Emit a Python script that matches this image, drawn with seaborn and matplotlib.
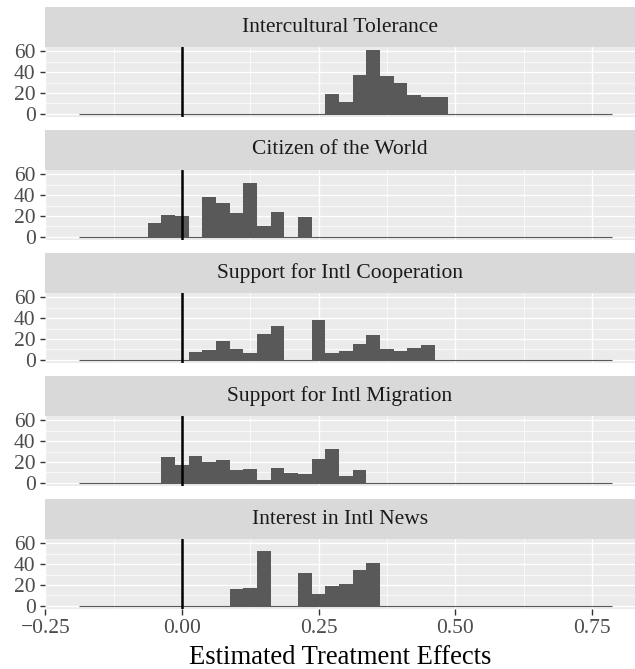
import numpy as np
import pandas as pd
import matplotlib
matplotlib.use("Agg")
import matplotlib.pyplot as plt
from matplotlib.patches import Rectangle
import seaborn as sns

# Histogram bin layout shared by every facet
BIN_START = -0.1877
BIN_WIDTH = 0.025
N_BINS = 39

outcomes = [
    "Intercultural Tolerance",
    "Citizen of the World",
    "Support for Intl Cooperation",
    "Support for Intl Migration",
    "Interest in Intl News",
]

# Counts per bin (39 bins) for each outcome
counts_tolerance = [0] * 18 + [19, 11, 37, 61, 36, 30, 18, 16, 16] + [0] * 12
counts_citizen = [0] * 5 + [13, 21, 20, 0, 38, 32, 23, 52, 10, 24, 0, 19] + [0] * 22
counts_cooperation = [0] * 8 + [7, 9, 18, 10, 6, 25, 32, 0, 0, 38, 6, 8, 15, 24, 10, 8, 11, 14] + [0] * 13
counts_migration = [0] * 6 + [25, 17, 26, 20, 22, 12, 13, 3, 14, 9, 8, 23, 32, 6, 12] + [0] * 18
counts_news = [0] * 11 + [16, 17, 53, 0, 0, 31, 11, 19, 21, 34, 41] + [0] * 17

x_ticks = [-0.25, 0.0, 0.25, 0.50, 0.75]
x_tick_labels = ["\u22120.25", "0.00", "0.25", "0.50", "0.75"]
x_minor = [-0.125, 0.125, 0.375, 0.625]
y_ticks = [0, 20, 40, 60]
y_minor = [10, 30, 50]

all_counts = [counts_tolerance, counts_citizen, counts_cooperation,
              counts_migration, counts_news]

edges = BIN_START + BIN_WIDTH * np.arange(N_BINS + 1)
centers = (edges[:-1] + edges[1:]) / 2

frames = []
for name, cnt in zip(outcomes, all_counts):
    frames.append(pd.DataFrame({"outcome": name, "effect": centers, "count": cnt}))
df = pd.concat(frames, ignore_index=True)

sns.set_style("white")
plt.rcParams["font.family"] = ["Liberation Serif", "DejaVu Serif"]

W, H = 635, 669
g = sns.FacetGrid(df, row="outcome", row_order=outcomes, sharex=True, sharey=True,
                  height=1.2, aspect=5)
g.map_dataframe(sns.histplot, x="effect", weights="count", binwidth=BIN_WIDTH,
                binrange=(float(edges[0]), float(edges[-1])),
                color="#595959", alpha=1, linewidth=0, edgecolor="none")
g.set_titles(row_template="", col_template="", template="")
g.set_axis_labels("", "")
fig = g.figure
fig.set_size_inches(W / 100, H / 100)
fig.set_dpi(100)
fig.patch.set_facecolor("white")

SMALL = 15.5
BASE = 19.2
strip_px = 40
panel_px = 70
step_px = 123
for i, (ax, name) in enumerate(zip(g.axes.flat, outcomes)):
    top = 47 + step_px * i
    bottom = top + panel_px
    ax.set_position([45 / W, 1 - bottom / H, 590 / W, panel_px / H])
    ax.set_facecolor("#EBEBEB")
    for s in ax.spines.values():
        s.set_visible(False)
    ax.set_xlim(-0.2505, 0.829)
    ax.set_ylim(-3.2, 64.2)
    ax.set_xticks(x_ticks)
    ax.set_xticks(x_minor, minor=True)
    ax.set_yticks(y_ticks)
    ax.set_yticks(y_minor, minor=True)
    ax.set_yticklabels([str(v) for v in y_ticks])
    ax.set_axisbelow(True)
    ax.grid(which="major", color="white", linewidth=1.0)
    ax.grid(which="minor", color="white", linewidth=0.5)
    ax.tick_params(axis="y", which="major", left=True, length=3.3, width=1.0,
                   color="#333333", labelsize=SMALL, labelcolor="#4D4D4D", pad=3.5)
    ax.tick_params(which="minor", length=0)
    # baseline spanning the binned range
    ax.hlines(0, edges[0], edges[-1], color="#595959", linewidth=0.8, zorder=2)
    ax.axvline(0, color="black", linewidth=1.8, zorder=3)
    ax.set_ylabel("")
    # facet strip
    sh = strip_px / panel_px
    ax.add_patch(Rectangle((0, 1), 1, sh, transform=ax.transAxes, clip_on=False,
                           facecolor="#D9D9D9", edgecolor="none", zorder=1))
    ax.text(0.5, 1 + sh / 2, name, transform=ax.transAxes, ha="center", va="center",
            fontsize=SMALL, color="#1A1A1A")
    if i < len(outcomes) - 1:
        ax.tick_params(axis="x", which="major", bottom=False, length=0, labelbottom=False)
        ax.set_xlabel("")
    else:
        ax.set_xticklabels(x_tick_labels)
        ax.tick_params(axis="x", which="major", bottom=True, length=4.0, width=1.0,
                       color="#333333", labelsize=SMALL, labelcolor="#4D4D4D", pad=3,
                       labelbottom=True)
        ax.set_xlabel("Estimated Treatment Effects", fontsize=BASE, color="black",
                      labelpad=5)

fig.savefig("out.png", dpi=100, facecolor="white")
